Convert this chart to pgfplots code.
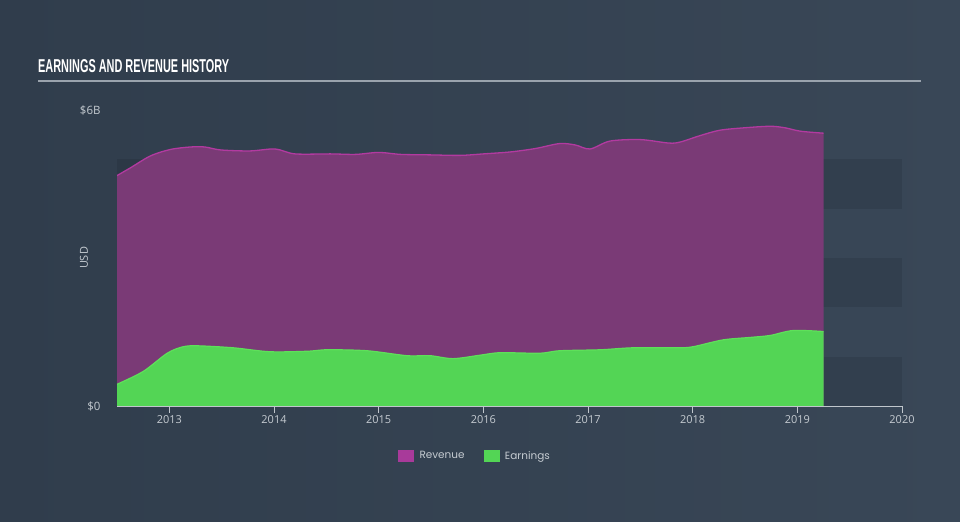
\documentclass[border=0pt]{standalone}
\usepackage{fontspec}
\usepackage{graphicx}
\usepackage{pgfplots}
\pgfplotsset{compat=1.18}
\setmainfont{Open Sans}
\newfontfamily\legfont{Poppins}
\newfontfamily\titlefont{Liberation Sans}
\definecolor{bgleft}{HTML}{303D4C}
\definecolor{bgright}{HTML}{394757}
\definecolor{revfill}{HTML}{7A3A76}
\definecolor{revline}{HTML}{B23AA0}
\definecolor{revleg}{HTML}{A83A9A}
\definecolor{earnfill}{HTML}{53D555}
\definecolor{earnline}{HTML}{5EE05A}
\definecolor{axiscol}{HTML}{C0C6CC}
\definecolor{labcol}{HTML}{C5CBD1}
\definecolor{titleline}{HTML}{9AA3AD}
\pgfplotstableread{
x y
2012.50 4.67
2012.63 4.83
2012.82 5.07
2013.01 5.20
2013.20 5.25
2013.34 5.25
2013.49 5.19
2013.77 5.17
2014.01 5.21
2014.20 5.11
2014.54 5.11
2014.78 5.10
2015.00 5.14
2015.21 5.10
2015.49 5.09
2015.78 5.08
2016.00 5.11
2016.26 5.15
2016.50 5.22
2016.73 5.32
2016.88 5.29
2017.02 5.21
2017.21 5.37
2017.50 5.40
2017.77 5.33
2017.88 5.35
2018.07 5.48
2018.26 5.59
2018.50 5.64
2018.74 5.67
2018.88 5.64
2019.03 5.57
2019.25 5.53
}\revenue
\pgfplotstableread{
x y
2012.50 0.44
2012.75 0.70
2012.98 1.07
2013.13 1.20
2013.27 1.22
2013.61 1.18
2013.96 1.10
2014.32 1.11
2014.51 1.14
2014.89 1.12
2015.27 1.02
2015.49 1.02
2015.71 0.96
2015.97 1.03
2016.16 1.08
2016.54 1.07
2016.73 1.12
2017.12 1.14
2017.43 1.18
2017.85 1.18
2018.00 1.20
2018.29 1.34
2018.55 1.39
2018.74 1.43
2018.96 1.53
2019.25 1.51
}\earnings
\begin{document}
\begin{tikzpicture}[x=1bp,y=1bp]
\path[use as bounding box] (0,0) rectangle (960,522);
\shade[left color=bgleft,right color=bgright] (0,0) rectangle (960,522);
\node[anchor=south west,inner sep=0pt,text=white] at (38,449)
  {\resizebox{191bp}{13bp}{\titlefont\bfseries EARNINGS AND REVENUE HISTORY}};
\draw[titleline,line width=1.6bp] (38,441) -- (921,441);
\begin{axis}[
  at={(117bp,116bp)}, anchor=south west,
  scale only axis, width=785bp, height=296bp,
  xmin=2012.5, xmax=2020, ymin=0, ymax=6,
  axis x line*=bottom, axis y line*=left,
  x axis line style={draw=axiscol,line width=0.8bp},
  y axis line style={draw=none},
  xtick={2013,2014,2015,2016,2017,2018,2019,2020},
  xticklabels={2013,2014,2015,2016,2017,2018,2019,2020},
  ytick={0,6}, yticklabels={\$0,\$6B},
  tick align=outside, major tick length=7bp,
  xtick style={draw=axiscol,line width=0.8bp},
  ytick style={draw=none},
  ticklabel style={font=\fontsize{11}{13}\selectfont, text=labcol},
  yticklabel style={xshift=-6bp,font=\fontsize{11.5}{13}\selectfont},
  xticklabel style={yshift=1bp},
  ylabel={USD}, ylabel style={at={(rel axis cs:-0.042,0.5)},anchor=center,font=\fontsize{11}{13}\selectfont,text=labcol},
  /pgf/number format/assume math mode=true,
  legend style={at={(0.456,-0.169)},anchor=center,draw=none,fill=none,text=labcol,
    font=\legfont\fontsize{10.5}{12}\selectfont,legend columns=2,
    /tikz/every even column/.append style={column sep=17bp}},
  legend cell align=left,
]
\addplot[fill=black,fill opacity=0.09,draw=none,forget plot] coordinates {(2012.5,0)(2020,0)(2020,1)(2012.5,1)} -- cycle;
\addplot[fill=black,fill opacity=0.09,draw=none,forget plot] coordinates {(2012.5,2)(2020,2)(2020,3)(2012.5,3)} -- cycle;
\addplot[fill=black,fill opacity=0.09,draw=none,forget plot] coordinates {(2012.5,4)(2020,4)(2020,5)(2012.5,5)} -- cycle;
\addplot[fill=revfill,draw=none,smooth,tension=0.5,forget plot] table {\revenue} \closedcycle;
\addplot[revline,line width=1.3bp,smooth,tension=0.5,forget plot] table {\revenue};
\addplot[fill=earnfill,draw=none,smooth,tension=0.5,forget plot] table {\earnings} \closedcycle;
\addplot[earnline,line width=1.2bp,smooth,tension=0.5,forget plot] table {\earnings};
\addlegendimage{legend image code/.code={\fill[revleg] (0bp,-5.5bp) rectangle (15bp,5.5bp); \path (19bp,0bp);}}
\addlegendentry{Revenue}
\addlegendimage{legend image code/.code={\fill[earnfill] (0bp,-5.5bp) rectangle (15bp,5.5bp); \path (19bp,0bp);}}
\addlegendentry{Earnings}
\end{axis}
\end{tikzpicture}
\end{document}
